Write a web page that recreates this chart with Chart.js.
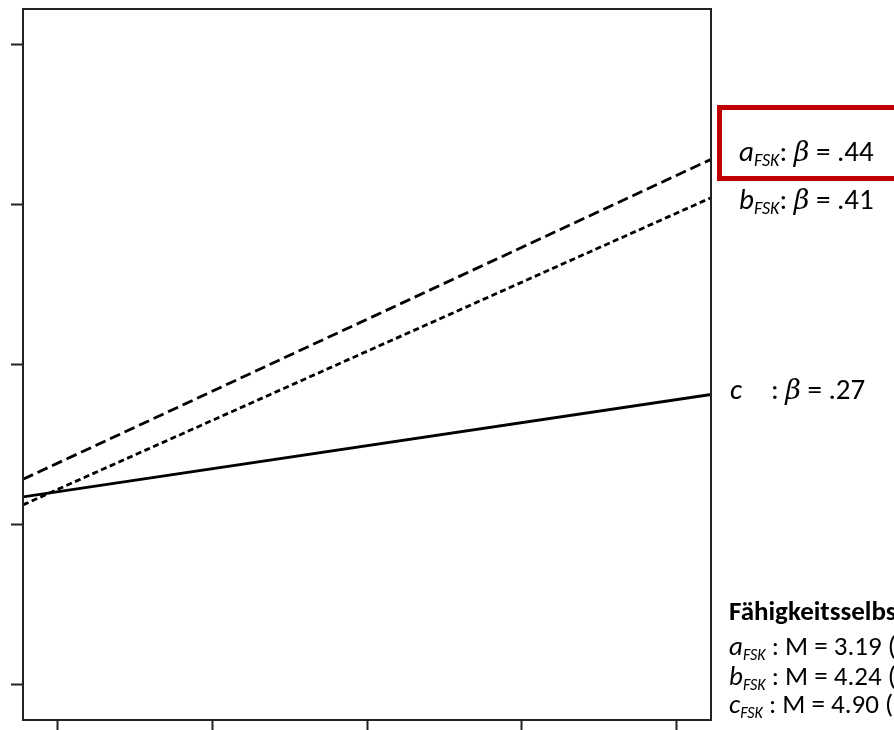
<!DOCTYPE html>
<html>
<head>
<meta charset="utf-8">
<script src="https://cdn.jsdelivr.net/npm/chart.js@4/dist/chart.umd.min.js"></script>
<style>
  html, body { margin: 0; padding: 0; background: #fff; overflow: hidden; }
  #wrap { position: relative; width: 894px; height: 730px; overflow: hidden; }
  #chart { position: absolute; left: 0; top: 0; }
  .lbl { position: absolute; font-family: Carlito, Lato, "Open Sans", sans-serif; font-size: 29px; color: #000; white-space: nowrap; line-height: 30px; }
  .lbl i { font-style: italic; }
  .lbl sub { font-size: 18px; font-style: italic; vertical-align: -5px; line-height: 0; }
  .small { font-size: 27px; }
  .small sub { font-size: 16px; }
  .beta { font-style: italic; font-family: "DejaVu Serif", serif; font-size: 27px; }
  #redbox { position: absolute; left: 717px; top: 105px; width: 260px; height: 66px; border: 5px solid #C00000; }
</style>
</head>
<body>
<div id="wrap">
  <canvas id="chart" width="894" height="730"></canvas>
  <div id="redbox"></div>
  <div class="lbl" style="left:739px; top:136px;"><i>a</i><sub>FSK</sub>: <span class="beta">β</span> = .44</div>
  <div class="lbl" style="left:739px; top:184px;"><i>b</i><sub>FSK</sub>: <span class="beta">β</span> = .41</div>
  <div class="lbl" style="left:730px; top:374px;"><i>c</i></div>
  <div class="lbl" style="left:771px; top:374px;">: <span class="beta">β</span> = .27</div>
  <div class="lbl small" style="left:729px; top:596px; font-weight:bold;">Fähigkeitsselbstkonzept</div>
  <div class="lbl small" style="left:729px; top:631px;"><i>a</i><sub>FSK</sub> : M = 3.19 (</div>
  <div class="lbl small" style="left:729px; top:661px;"><i>b</i><sub>FSK</sub> : M = 4.24 (</div>
  <div class="lbl small" style="left:729px; top:689px;"><i>c</i><sub>FSK</sub> : M = 4.90 (</div>
</div>
<script>
// ---- data ----
const xPoints = [-0.22, 4.22];          // line start / end on the x axis
const seriesA = [1.28, 3.28];           // a_FSK (long dashes)
const seriesB = [1.12, 3.04];           // b_FSK (short dashes)
const seriesC = [1.17, 1.81];           // c (solid)
const xTicks = [0, 1, 2, 3, 4];
const yTicks = [0, 1, 2, 3, 4];
const xRange = [-0.22, 4.22];
const yRange = [-0.225, 4.22];

const toPts = (ys) => xPoints.map((x, i) => ({ x: x, y: ys[i] }));

const boxPlugin = {
  id: 'box',
  afterDatasetsDraw(chart) {
    const { ctx, chartArea: a } = chart;
    ctx.save();
    ctx.strokeStyle = '#222';
    ctx.lineWidth = 2;
    ctx.strokeRect(a.left, a.top, a.right - a.left, a.bottom - a.top);
    ctx.restore();
  }
};

const tickSetter = (vals) => (scale) => { scale.ticks = vals.map(v => ({ value: v })); };

new Chart(document.getElementById('chart'), {
  type: 'line',
  data: {
    datasets: [
      { label: 'a', data: toPts(seriesA), borderColor: '#000', borderWidth: 2.8, borderDash: [11, 5], pointRadius: 0, fill: false },
      { label: 'b', data: toPts(seriesB), borderColor: '#000', borderWidth: 2.8, borderDash: [6, 3.5], pointRadius: 0, fill: false },
      { label: 'c', data: toPts(seriesC), borderColor: '#000', borderWidth: 2.8, pointRadius: 0, fill: false }
    ]
  },
  options: {
    responsive: false,
    animation: false,
    layout: { padding: { left: 11, right: 183, top: 9, bottom: 0 } },
    plugins: { legend: { display: false }, tooltip: { enabled: false } },
    scales: {
      x: {
        type: 'linear', min: xRange[0], max: xRange[1],
        afterBuildTicks: tickSetter(xTicks),
        ticks: { display: false },
        border: { display: false },
        grid: { drawOnChartArea: false, drawTicks: true, tickLength: 10, tickColor: '#222', tickWidth: 2 }
      },
      y: {
        type: 'linear', min: yRange[0], max: yRange[1],
        afterBuildTicks: tickSetter(yTicks),
        ticks: { display: false },
        border: { display: false },
        grid: { drawOnChartArea: false, drawTicks: true, tickLength: 12, tickColor: '#222', tickWidth: 2 }
      }
    }
  },
  plugins: [boxPlugin]
});
</script>
</body>
</html>
